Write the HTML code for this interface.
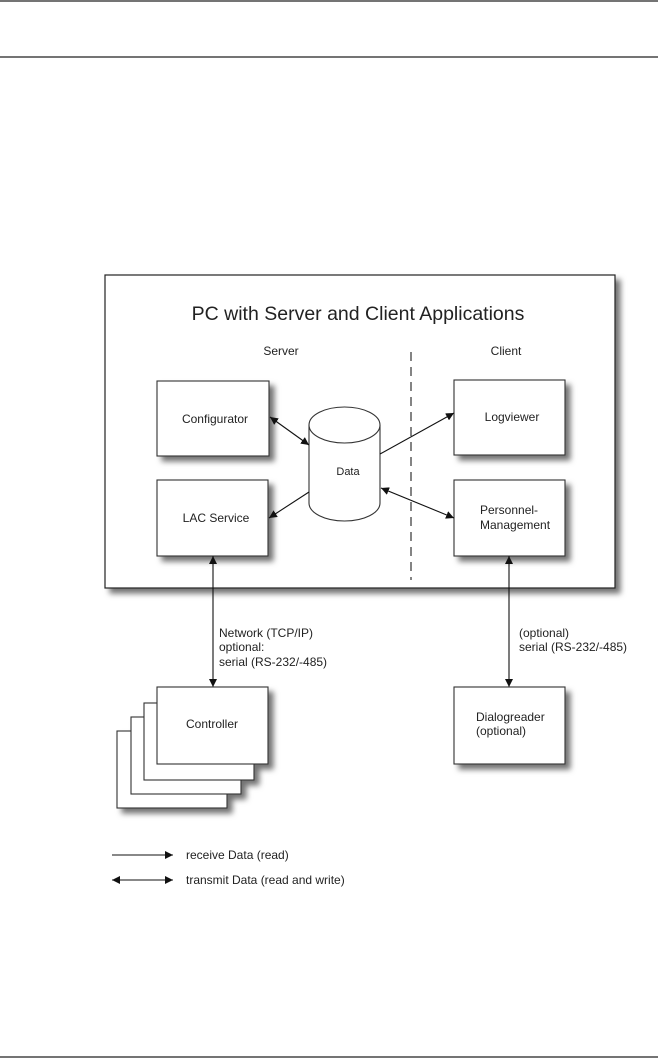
<!DOCTYPE html>
<html><head><meta charset="utf-8"><style>
html,body{margin:0;padding:0;background:#fff;}
svg{display:block;}
text{font-family:"Liberation Sans",sans-serif;fill:#222;}
</style></head><body>
<svg width="658" height="1062" viewBox="0 0 658 1062" xmlns="http://www.w3.org/2000/svg">
<defs>
<filter id="sh" x="-10%" y="-10%" width="130%" height="130%">
<feDropShadow dx="5" dy="5" stdDeviation="3" flood-color="#000" flood-opacity="0.55"/>
</filter>
<marker id="ah" viewBox="0 0 10 10" refX="10" refY="5" markerWidth="8" markerHeight="8" orient="auto-start-reverse" markerUnits="userSpaceOnUse">
<path d="M0,0 L10,5 L0,10 z" fill="#111"/>
</marker>
</defs>
<line x1="0" y1="1" x2="658" y2="1" stroke="#222" stroke-width="1.3"/>
<line x1="0" y1="57" x2="658" y2="57" stroke="#222" stroke-width="1.3"/>
<line x1="0" y1="1057" x2="658" y2="1057" stroke="#222" stroke-width="1.3"/>

<rect x="105" y="275" width="510" height="313" fill="#fff" stroke="#222" stroke-width="1.2" filter="url(#sh)"/>
<text x="358" y="320" font-size="19.5" text-anchor="middle">PC with Server and Client Applications</text>
<text x="281" y="355" font-size="12" text-anchor="middle">Server</text>
<text x="506" y="355" font-size="12" text-anchor="middle">Client</text>
<line x1="411" y1="352" x2="411" y2="580" stroke="#333" stroke-width="1.2" stroke-dasharray="9,6"/>

<g stroke="#333" stroke-width="1.1" fill="#fff" filter="url(#sh)">
<rect x="157" y="381" width="112" height="75"/>
<rect x="157" y="480" width="111" height="76"/>
<rect x="454" y="380" width="111" height="75"/>
<rect x="454" y="480" width="111" height="76"/>
</g>
<g stroke="#333" stroke-width="1.1" fill="#fff">
<path d="M309,425 L309,503 A35.5,18 0 0 0 380,503 L380,425" />
<ellipse cx="344.5" cy="425" rx="35.5" ry="18"/>
</g>
<text x="215" y="423" font-size="12" text-anchor="middle">Configurator</text>
<text x="216" y="522" font-size="12" text-anchor="middle">LAC Service</text>
<text x="512" y="421" font-size="12" text-anchor="middle">Logviewer</text>
<text x="480" y="514" font-size="12">Personnel-</text>
<text x="480" y="529" font-size="12">Management</text>
<text x="348" y="475" font-size="11" text-anchor="middle">Data</text>

<g stroke="#111" stroke-width="1.1" fill="none">
<line x1="270" y1="417" x2="309" y2="445" marker-start="url(#ah)" marker-end="url(#ah)"/>
<line x1="309" y1="492" x2="269" y2="518" marker-end="url(#ah)"/>
<line x1="380" y1="454" x2="454" y2="413" marker-end="url(#ah)"/>
<line x1="381" y1="488" x2="454" y2="518" marker-start="url(#ah)" marker-end="url(#ah)"/>
<line x1="213" y1="556" x2="213" y2="687" marker-start="url(#ah)" marker-end="url(#ah)"/>
<line x1="509" y1="556" x2="509" y2="687" marker-start="url(#ah)" marker-end="url(#ah)"/>
</g>
<text font-size="12"><tspan x="219" y="637">Network (TCP/IP)</tspan><tspan x="219" y="651">optional:</tspan><tspan x="219" y="666">serial (RS-232/-485)</tspan></text>
<text font-size="12"><tspan x="519" y="637">(optional)</tspan><tspan x="519" y="651">serial (RS-232/-485)</tspan></text>

<g stroke="#333" stroke-width="1.1" fill="#fff" filter="url(#sh)">
<rect x="117" y="731" width="110" height="77"/>
<rect x="131" y="717" width="110" height="77"/>
<rect x="144" y="703" width="110" height="77"/>
<rect x="157" y="687" width="111" height="77"/>
<rect x="454" y="687" width="111" height="77"/>
</g>
<text x="212" y="728" font-size="12" text-anchor="middle">Controller</text>
<text x="476" y="721" font-size="12">Dialogreader</text>
<text x="476" y="735" font-size="12">(optional)</text>

<g stroke="#111" stroke-width="1.1">
<line x1="112" y1="855" x2="173" y2="855" marker-end="url(#ah)"/>
<line x1="112" y1="880" x2="173" y2="880" marker-start="url(#ah)" marker-end="url(#ah)"/>
</g>
<text x="186" y="859" font-size="12">receive Data (read)</text>
<text x="186" y="884" font-size="12">transmit Data (read and write)</text>
</svg>
</body></html>
